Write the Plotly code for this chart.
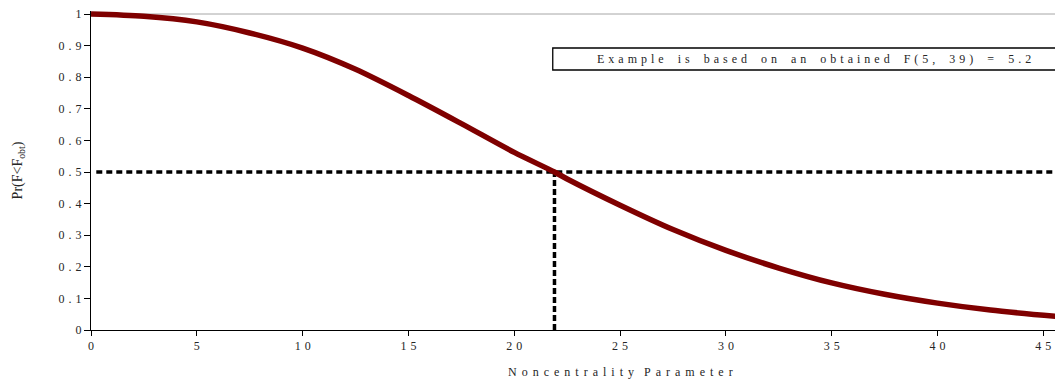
import plotly.graph_objects as go

# Cumulative probability Pr(F < F_obt) as the noncentrality parameter grows
noncentrality = [0, 2.5, 5, 7.5, 10, 12.5, 15, 17.5, 20, 21.9, 22.5, 25, 27.5,
                 30, 32.5, 35, 37.5, 40, 42.5, 45.6]
prob_below = [1.0, 0.993, 0.975, 0.94, 0.892, 0.825, 0.742, 0.653, 0.562, 0.5,
              0.478, 0.395, 0.318, 0.252, 0.196, 0.149, 0.113, 0.085, 0.063, 0.043]

# Reference lines: probability 0.5 and the noncentrality where it is reached
half_prob = 0.5
lambda_half = 21.9

x_ticks = [0, 5, 10, 15, 20, 25, 30, 35, 40, 45]
y_ticks = [0, 0.1, 0.2, 0.3, 0.4, 0.5, 0.6, 0.7, 0.8, 0.9, 1]


def spaced(s, letter="\u2004", word="\u2002\u2004\u2004"):
    """Letter-space a string, keeping word gaps wider."""
    return word.join(letter.join(w) for w in s.split(" "))


x_labels = [spaced(str(v)) for v in x_ticks]
y_labels = [spaced(f"{v:g}") for v in y_ticks]

SERIF = "Liberation Serif, DejaVu Serif, serif"
TEXT = "#262626"
FS = 12

fig = go.Figure()

fig.add_trace(go.Scatter(
    x=[0.25, 45.6], y=[half_prob, half_prob], mode="lines",
    line=dict(color="black", width=3.5, dash="6px,4px"),
    hoverinfo="skip", showlegend=False,
))
fig.add_trace(go.Scatter(
    x=[lambda_half, lambda_half], y=[0, half_prob], mode="lines",
    line=dict(color="black", width=3.5, dash="6px,3px"),
    hoverinfo="skip", showlegend=False,
))
fig.add_trace(go.Scatter(
    x=noncentrality, y=prob_below, mode="lines",
    line=dict(color="#7f0000", width=5.5, shape="spline", smoothing=0.8),
    showlegend=False,
))

# Light rule along the top of the plotting area
fig.add_shape(type="line", xref="paper", yref="y", x0=0, x1=1, y0=1, y1=1,
              line=dict(color="#a6a6a6", width=1), layer="below")

# Framed note
fig.add_shape(type="rect", xref="paper", yref="paper",
              x0=0.479, x1=1.03, y0=0.815, y1=0.884,
              line=dict(color="black", width=1.3), fillcolor="white")
fig.add_annotation(
    xref="paper", yref="paper", x=0.75, y=0.8495, showarrow=False,
    text=spaced("Example is based on an obtained F(5, 39) = 5.2"),
    font=dict(family=SERIF, size=FS, color=TEXT),
    xanchor="center", yanchor="middle",
)

# Horizontal axis title
fig.add_annotation(
    xref="paper", yref="paper", x=0.549, y=-0.132, showarrow=False,
    text=spaced("Noncentrality Parameter", letter="\u2004\u200a",
                word="\u2002\u2004"),
    font=dict(family=SERIF, size=FS, color=TEXT),
    xanchor="center", yanchor="middle",
)

fig.update_layout(
    width=1055, height=383,
    margin=dict(l=91, r=0, t=11, b=53),
    paper_bgcolor="white", plot_bgcolor="white",
    font=dict(family=SERIF, size=FS, color=TEXT),
    xaxis=dict(
        range=[0, 45.55], tickmode="array", tickvals=x_ticks, ticktext=x_labels,
        showgrid=False, zeroline=False, showline=True, linecolor="black",
        linewidth=1, ticks="outside", ticklen=5, tickcolor="black",
        tickfont=dict(family=SERIF, size=FS, color=TEXT),
    ),
    yaxis=dict(
        range=[0, 1.0095], tickmode="array", tickvals=y_ticks, ticktext=y_labels,
        showgrid=False, zeroline=False, showline=True, linecolor="black",
        linewidth=1, ticks="outside", ticklen=6, tickcolor="black",
        tickfont=dict(family=SERIF, size=FS, color=TEXT),
        title=dict(text="Pr(F<F<sub>obt</sub>)",
                   font=dict(family=SERIF, size=14, color=TEXT), standoff=32),
    ),
)

fig.write_html("out.html")
